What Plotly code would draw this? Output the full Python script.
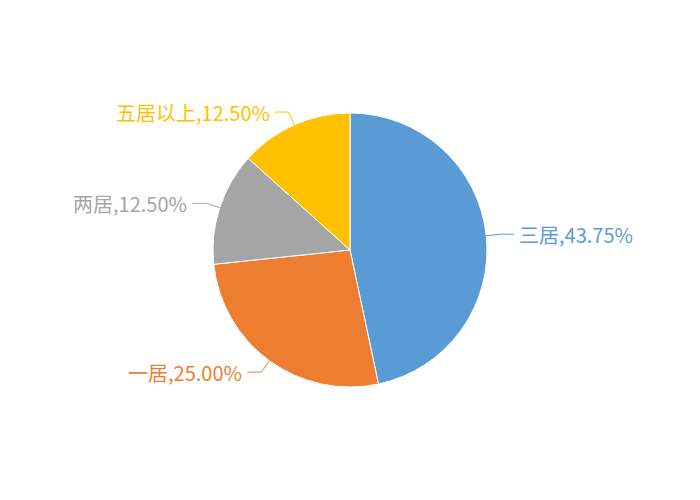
import math
import plotly.graph_objects as go

labels = ["三居", "一居", "两居", "五居以上"]
shares = [43.75, 25.00, 12.50, 12.50]
colors = ["#5B9BD5", "#ED7D31", "#A5A5A5", "#FFC000"]

W, H = 700, 500
# page is drawn with an 8px body offset, so the centre is shifted back
cx, cy, R = 342, 242, 137

fig = go.Figure(go.Pie(
    labels=labels,
    values=shares,
    sort=False,
    direction="clockwise",
    rotation=0,
    textinfo="none",
    marker=dict(colors=colors, line=dict(color="white", width=1)),
    domain=dict(x=[(cx - R) / W, (cx + R) / W], y=[(H - cy - R) / H, (H - cy + R) / H]),
    hoverinfo="label+percent",
    showlegend=False,
))

# leader lines + labels, placed from each slice's mid angle
total = sum(shares)
start = 0.0
for name, v, c in zip(labels, shares, colors):
    span = 360 * v / total
    mid = math.radians(start + span / 2)
    start += span
    sx, sy = math.sin(mid), -math.cos(mid)
    p0 = (cx + R * sx, cy + R * sy)
    p1 = (cx + (R + 14) * sx, cy + (R + 14) * sy)
    side = 1 if sx >= 0 else -1
    p2 = (p1[0] + side * 14, p1[1])
    pts = [p0, p1, p2]
    path = "M " + " L ".join(f"{x / W:.4f},{1 - y / H:.4f}" for x, y in pts)
    fig.add_shape(type="path", path=path, xref="paper", yref="paper",
                  line=dict(color=c, width=1))
    fig.add_annotation(
        x=(p2[0] + side * 3) / W, y=1 - p2[1] / H, xref="paper", yref="paper",
        text=f"{name},{v:.2f}%", showarrow=False,
        xanchor="left" if side > 0 else "right", yanchor="middle",
        font=dict(color=c, size=20),
    )

fig.update_layout(
    width=W, height=H,
    margin=dict(l=0, r=0, t=0, b=0),
    paper_bgcolor="white",
    font=dict(family="Noto Sans CJK SC, Noto Sans, sans-serif"),
)

fig.write_html("out.html")
